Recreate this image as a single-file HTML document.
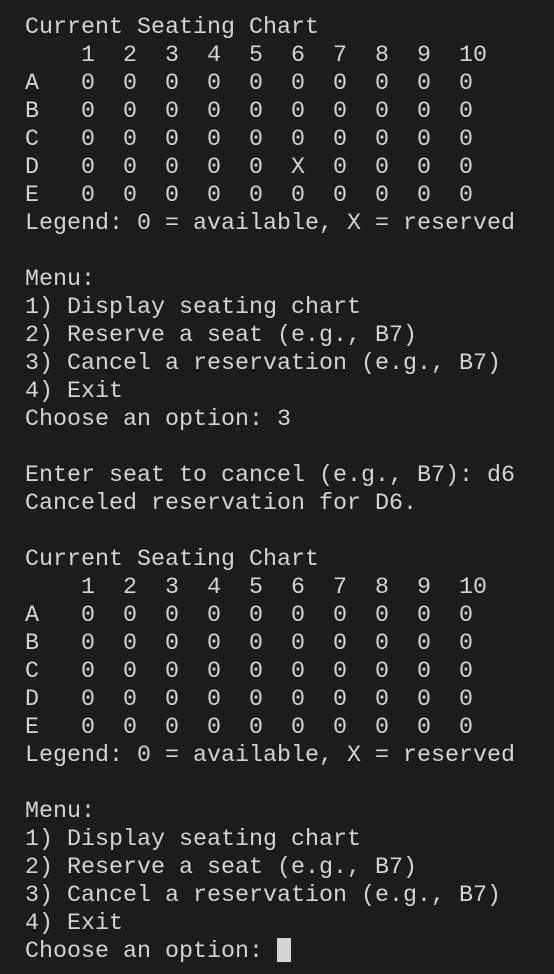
<!DOCTYPE html>
<html><head><meta charset="utf-8"><style>
html,body{margin:0;padding:0;background:#1c1c1c;width:554px;height:974px;overflow:hidden}
pre{margin:0;position:absolute;left:25px;top:14px;font-family:"Liberation Mono",monospace;font-size:23.33px;line-height:28px;color:#d4d4d4;white-space:pre}
.cur{display:inline-block;width:14px;height:24px;background:#d4d4d4;vertical-align:-5px}
</style></head><body><pre>Current Seating Chart
    1  2  3  4  5  6  7  8  9  10
A   0  0  0  0  0  0  0  0  0  0
B   0  0  0  0  0  0  0  0  0  0
C   0  0  0  0  0  0  0  0  0  0
D   0  0  0  0  0  X  0  0  0  0
E   0  0  0  0  0  0  0  0  0  0
Legend: 0 = available, X = reserved

Menu:
1) Display seating chart
2) Reserve a seat (e.g., B7)
3) Cancel a reservation (e.g., B7)
4) Exit
Choose an option: 3

Enter seat to cancel (e.g., B7): d6
Canceled reservation for D6.

Current Seating Chart
    1  2  3  4  5  6  7  8  9  10
A   0  0  0  0  0  0  0  0  0  0
B   0  0  0  0  0  0  0  0  0  0
C   0  0  0  0  0  0  0  0  0  0
D   0  0  0  0  0  0  0  0  0  0
E   0  0  0  0  0  0  0  0  0  0
Legend: 0 = available, X = reserved

Menu:
1) Display seating chart
2) Reserve a seat (e.g., B7)
3) Cancel a reservation (e.g., B7)
4) Exit
Choose an option: <span class="cur"></span></pre></body></html>
